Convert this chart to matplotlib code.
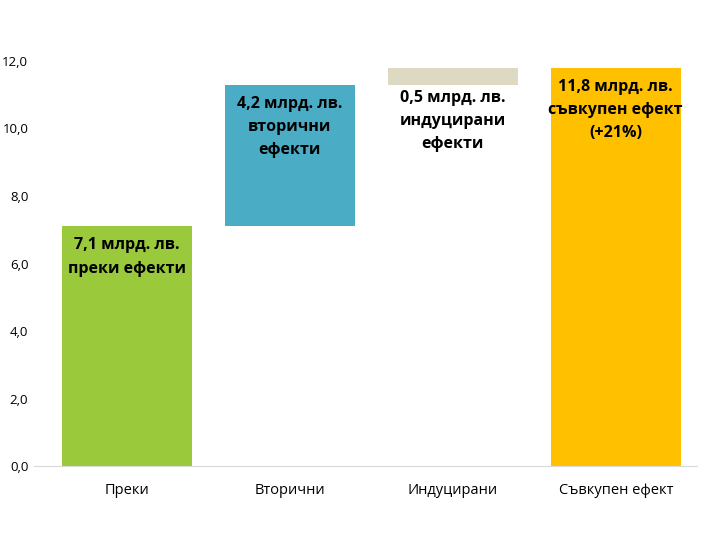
import matplotlib
matplotlib.use('Agg')
import matplotlib.pyplot as plt

plt.rcParams['font.family'] = ['Open Sans', 'DejaVu Sans']

categories = ['Преки', 'Вторични', 'Индуцирани', 'Съвкупен ефект']
values = [7.1, 4.2, 0.5, 11.8]
bottoms = [0.0, 7.1, 11.3, 0.0]
colors = ['#9ACA3C', '#4BACC6', '#DDD9C3', '#FFC000']
bar_texts = ['7,1 млрд. лв.\nпреки ефекти',
             '4,2 млрд. лв.\nвторични\nефекти',
             '0,5 млрд. лв.\nиндуцирани\nефекти',
             '11,8 млрд. лв.\nсъвкупен ефект\n(+21%)']
yticks = [0, 2, 4, 6, 8, 10, 12]

fig = plt.figure(figsize=(7.05, 5.34), dpi=100)
ax = fig.add_axes([0.048, 0.127, 0.941, 0.759])

x = range(len(categories))
bars = ax.bar(x, values, bottom=bottoms, width=0.80, color=colors)

# label positions: inside the bar from the top, except the small beige one (below it)
for i, (b, txt) in enumerate(zip(bars, bar_texts)):
    top = b.get_y() + b.get_height()
    if i == 2:
        ref, dy = b.get_y(), -4
    else:
        ref, dy = top, -8
    ax.annotate(txt, (b.get_x() + b.get_width() / 2, ref), xytext=(0, dy),
                textcoords='offset points', ha='center', va='top',
                fontsize=11.5, fontweight='bold', linespacing=1.6, color='black')

ax.set_ylim(0, 12)
ax.set_xlim(-0.57, 3.5)
ax.set_yticks(yticks)
ax.set_yticklabels(['{:.1f}'.format(v).replace('.', ',') for v in yticks], fontsize=9.5)
ax.set_xticks(list(x))
ax.set_xticklabels(categories, fontsize=10.5)
ax.tick_params(axis='both', length=0)
ax.tick_params(axis='x', pad=12)
ax.tick_params(axis='y', pad=4)

for s in ['top', 'right', 'left']:
    ax.spines[s].set_visible(False)
ax.spines['bottom'].set_color('#D9D9D9')

fig.savefig('out.png', dpi=100)
